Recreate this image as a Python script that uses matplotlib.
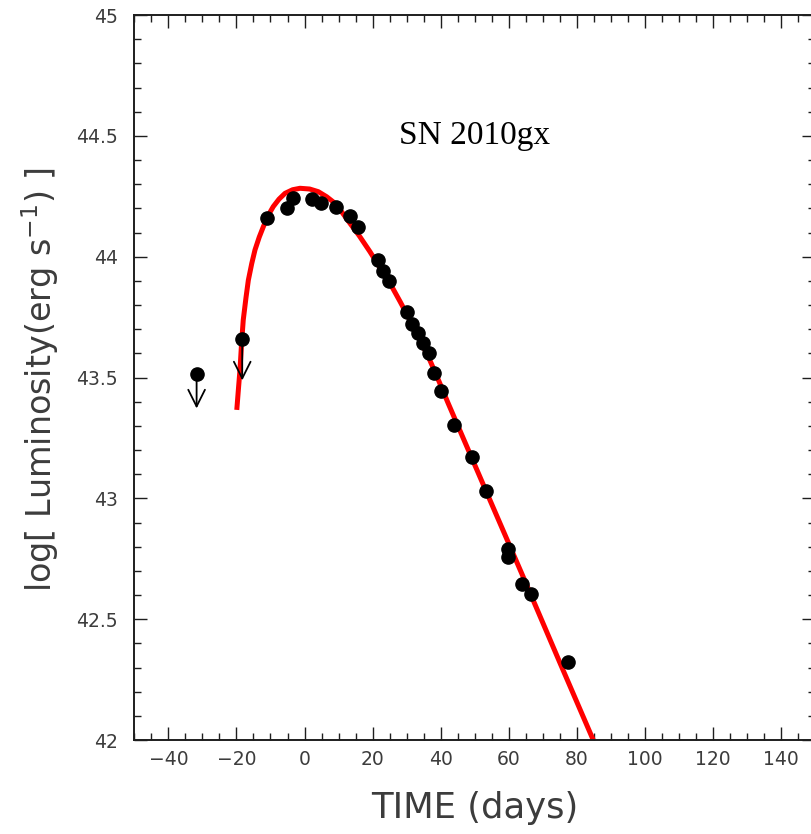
import numpy as np
import matplotlib.pyplot as plt
from matplotlib.ticker import MultipleLocator, FormatStrFormatter

# observed bolometric points (days, log L)
obs_days = [-10.9, -5.1, -3.5, 2.3, 4.7, 9.2, 13.4, 15.8, 21.7, 23.1, 24.9,
            30.0, 31.7, 33.2, 34.9, 36.6, 38.1, 40.0, 43.9, 49.1, 53.2,
            59.85, 59.85, 63.8, 66.4, 77.5]
obs_logl = [44.161, 44.203, 44.242, 44.239, 44.221, 44.204, 44.168, 44.124,
            43.986, 43.942, 43.900, 43.770, 43.721, 43.683, 43.641, 43.600,
            43.517, 43.445, 43.303, 43.170, 43.030, 42.790, 42.756, 42.646,
            42.604, 42.324]

# upper limits: dot value and arrow tip
lim_days = [-31.7, -18.3]
lim_logl = [43.515, 43.658]
lim_tip = [43.372, 43.488]

# model curve
fit_days = [-19.9, -19.4, -18.96, -18.5, -18.0, -17.2, -16.5, -15.5, -14.55,
            -13.3, -12.1, -10.7, -9.2, -7.5, -5.74, -3.5, -1.33, 1.5, 4.04,
            6.5, 8.95, 11.0, 13.35, 16.0, 19.2, 22.0, 25.1, 28.0, 30.96,
            33.9, 36.8, 39.5, 42.2, 49.0, 55.9, 64.9, 75.0, 84.8]
fit_logl = [43.366, 43.455, 43.531, 43.640, 43.738, 43.830, 43.903, 43.972,
            44.028, 44.081, 44.124, 44.170, 44.207, 44.238, 44.262, 44.277,
            44.283, 44.280, 44.269, 44.248, 44.221, 44.184, 44.138, 44.088,
            44.021, 43.958, 43.890, 43.816, 43.738, 43.656, 43.572, 43.484,
            43.393, 43.171, 42.946, 42.653, 42.320, 42.000]

INK = "#1e1e1e"
LABEL_INK = "#3c3c3c"


def main() -> None:
    fig = plt.figure(figsize=(8.11, 8.34), dpi=100)
    ax = fig.add_axes([0.1656, 0.1127, 0.8396, 0.8693])

    ax.plot(fit_days, fit_logl, color="red", lw=3.6, zorder=2,
            solid_capstyle="butt", solid_joinstyle="round")
    ax.plot(obs_days, obs_logl, "o", color="black", ms=9.5, zorder=3)
    ax.plot(lim_days, lim_logl, "o", color="black", ms=9.5, zorder=3)
    for x, y0, y1 in zip(lim_days, lim_logl, lim_tip):
        ax.annotate("", xy=(x, y1), xytext=(x, y0),
                    arrowprops=dict(arrowstyle="->", color="black", lw=1.3,
                                    mutation_scale=30, shrinkA=0, shrinkB=0),
                    zorder=3)

    ax.text(50, 44.5, "SN 2010gx", family="Liberation Serif", fontsize=24,
            ha="center", va="center")

    ax.set_xlim(-50, 150)
    ax.set_ylim(42, 45)
    ax.xaxis.set_major_locator(MultipleLocator(20))
    ax.xaxis.set_minor_locator(MultipleLocator(5))
    ax.yaxis.set_major_locator(MultipleLocator(0.5))
    ax.yaxis.set_minor_locator(MultipleLocator(0.1))
    ax.yaxis.set_major_formatter(FormatStrFormatter("%g"))

    ax.tick_params(which="both", direction="in", top=True, right=True,
                   width=1.0, color=INK)
    ax.tick_params(which="major", length=9.5)
    ax.tick_params(which="minor", length=4.8)
    ax.tick_params(axis="x", labelsize=13.5, pad=7, labelcolor=LABEL_INK)
    ax.tick_params(axis="y", labelsize=13.5, pad=12, labelcolor=LABEL_INK)
    for spine in ax.spines.values():
        spine.set_linewidth(1.4)
        spine.set_color(INK)

    ax.set_xlabel("TIME (days)", fontsize=25.5, color=LABEL_INK, va="center")
    ax.xaxis.set_label_coords(0.4998, -0.0938)
    ax.set_ylabel("log[ Luminosity(erg s$^{-1}$) ]", fontsize=24,
                  color=LABEL_INK, va="center")
    ax.yaxis.set_label_coords(-0.1385, 0.4966)

    fig.savefig("out.png", dpi=100)


if __name__ == "__main__":
    main()
